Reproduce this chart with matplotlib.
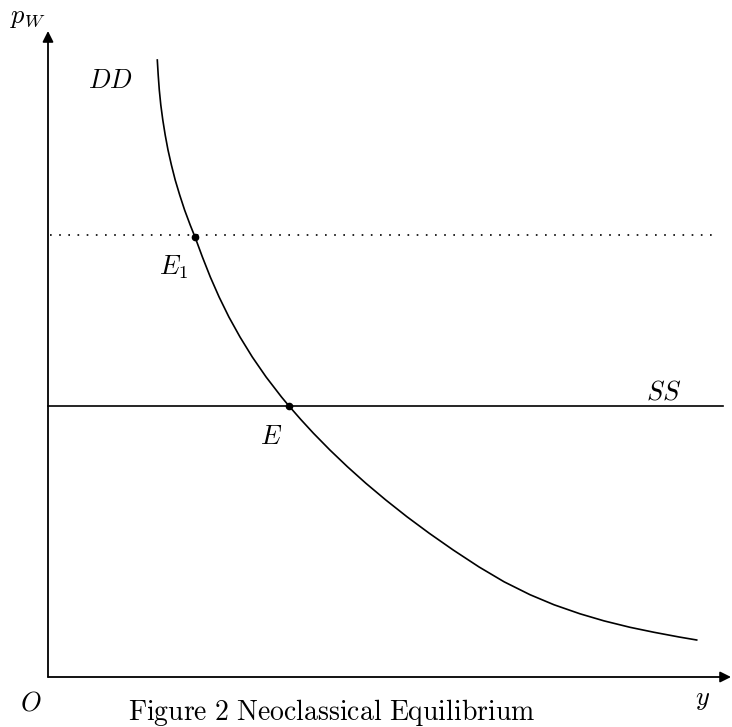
import matplotlib
matplotlib.use('Agg')
import matplotlib.pyplot as plt

plt.rcParams['mathtext.fontset'] = 'cm'
plt.rcParams['font.family'] = ['DejaVu Serif']

# Demand curve DD
demand_x = [1.093, 1.102, 1.113, 1.128, 1.148, 1.172, 1.200, 1.234, 1.272,
            1.317, 1.366, 1.422, 1.470,
            1.544, 1.623, 1.711, 1.809, 1.920, 2.043, 2.181, 2.335, 2.410,
            2.529, 2.655, 2.819, 2.994, 3.179, 3.378, 3.589, 3.813, 4.052,
            4.311, 4.561, 4.820, 5.061, 5.320, 5.561, 5.820, 6.061, 6.311,
            6.487]
demand_y = [6.170, 6.020, 5.870, 5.720, 5.570, 5.420, 5.270, 5.120, 4.970,
            4.820, 4.670, 4.520, 4.400,
            4.200, 4.000, 3.800, 3.600, 3.400, 3.200, 3.000, 2.800, 2.710,
            2.574, 2.437, 2.270, 2.103, 1.937, 1.770, 1.603, 1.437, 1.270,
            1.100, 0.952, 0.823, 0.722, 0.632, 0.561, 0.497, 0.447, 0.400,
            0.370]

# Supply line SS and dotted price line
ss_x = [0.0, 6.75]
ss_y = [2.71, 2.71]
dot_x = [0.02, 6.70]
dot_y = [4.42, 4.42]

# Equilibrium points E1 and E
pt_x = [1.47, 2.41]
pt_y = [4.40, 2.71]

fig = plt.figure(figsize=(7.32, 7.27), dpi=100)
ax = fig.add_axes([0, 0, 1, 1])
ax.set_xlim(-0.48, 6.84)
ax.set_ylim(-0.50, 6.77)
ax.axis('off')

arrow = dict(arrowstyle='-|>', lw=1.3, color='black', mutation_scale=16,
             shrinkA=0, shrinkB=0)
ax.annotate('', xy=(6.83, 0), xytext=(0, 0), arrowprops=arrow)
ax.annotate('', xy=(0, 6.46), xytext=(0, 0), arrowprops=arrow)

ax.plot(demand_x, demand_y, color='black', lw=1.2, solid_joinstyle='round')
ax.plot(ss_x, ss_y, color='black', lw=1.2)
ax.plot(dot_x, dot_y, color='black', lw=1.2, linestyle=(0, (1, 4.5)))
ax.plot(pt_x, pt_y, 'o', color='black', markersize=4.5)

fs = 19
ax.text(-0.20, 6.59, r'$p_W$', fontsize=fs, ha='center', va='center')
ax.text(0.62, 5.96, r'$DD$', fontsize=fs, ha='center', va='center')
ax.text(1.26, 4.10, r'$E_1$', fontsize=fs, ha='center', va='center')
ax.text(2.23, 2.40, r'$E$', fontsize=fs, ha='center', va='center')
ax.text(6.16, 2.85, r'$SS$', fontsize=fs, ha='center', va='center')
ax.text(-0.17, -0.26, r'$O$', fontsize=fs, ha='center', va='center')
ax.text(6.55, -0.23, r'$y$', fontsize=fs, ha='center', va='center')
ax.text(2.84, -0.35, r'$\mathrm{Figure\ 2\ Neoclassical\ Equilibrium}$',
        fontsize=20, ha='center', va='center')

fig.savefig('out.png', dpi=100)
